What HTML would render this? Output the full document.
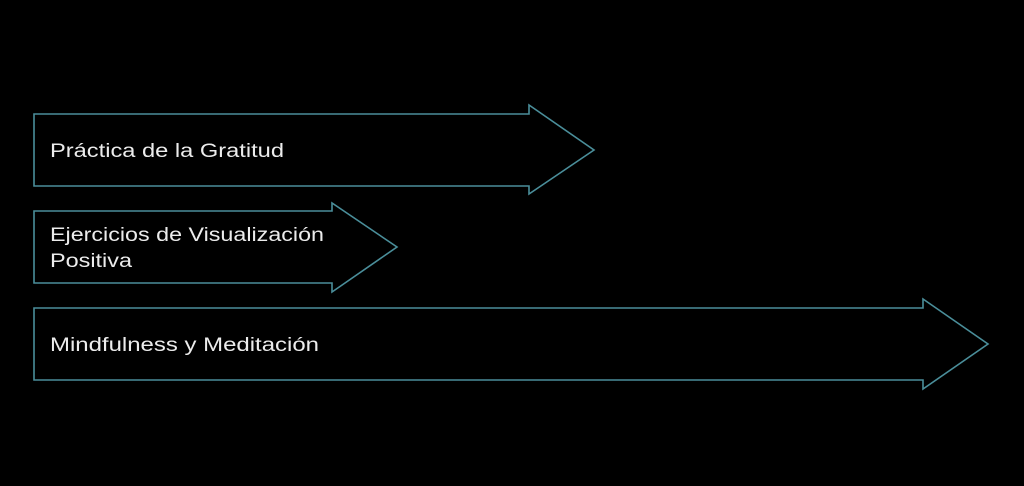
<!DOCTYPE html>
<html><head><meta charset="utf-8"><style>html,body{margin:0;padding:0;background:#000;width:1024px;height:486px;overflow:hidden}</style></head>
<body>
<svg width="1024" height="486" xmlns="http://www.w3.org/2000/svg">
<rect width="1024" height="486" fill="#000"/>
<g fill="none" stroke="#4a8e9a" stroke-width="1.6">
<polygon points="34,114 529,114 529,105 594,150 529,194 529,186 34,186"/>
<polygon points="34,211 332,211 332,203 397,247 332,292 332,283 34,283"/>
<polygon points="34,308 923,308 923,299 988,344 923,389 923,380 34,380"/>
</g>
<g fill="#ececec" font-family="Liberation Sans, sans-serif" font-size="19">
<text x="50" y="157" textLength="234" lengthAdjust="spacingAndGlyphs">Práctica de la Gratitud</text>
<text x="50" y="241" textLength="274" lengthAdjust="spacingAndGlyphs">Ejercicios de Visualización</text>
<text x="50" y="267" textLength="82" lengthAdjust="spacingAndGlyphs">Positiva</text>
<text x="50" y="351" textLength="269" lengthAdjust="spacingAndGlyphs">Mindfulness y Meditación</text>
</g>
</svg>
</body></html>
